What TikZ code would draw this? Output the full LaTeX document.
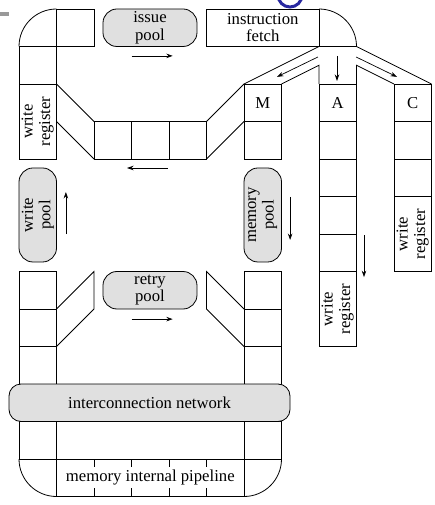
\documentclass[tikz,border=0pt]{standalone}
\usepackage{fontspec}
\setmainfont{Liberation Serif}
\usetikzlibrary{arrows.meta}
\definecolor{poolgray}{RGB}{224,224,224}
\definecolor{logoblue}{RGB}{40,40,160}
\begin{document}
\begin{tikzpicture}[x=37.5pt, y=-37.5pt, line width=0.8pt,
  every node/.style={font=\fontsize{16.7}{17.5}\selectfont, align=center,
                     inner sep=0pt, outer sep=0pt},
  cell/.style={draw, minimum width=37.5pt, minimum height=37.5pt},
  wreg/.style={draw, minimum width=75pt, minimum height=37.5pt, rotate=90},
  pool/.style={draw, fill=poolgray, rounded corners=14pt,
               minimum width=94pt, minimum height=37.5pt},
  vpool/.style={pool, rotate=90},
  flow/.style={-{Stealth[length=6.5pt,width=4.5pt]}, line width=0.7pt},
]
\useasboundingbox (-0.5067,-0.24) rectangle (11.0667,13.2267);

% slide leftovers at the edges
\fill[gray!80] (-0.5067,0.08) rectangle (-0.267,0.187);
\draw[logoblue, line width=3pt] (6.907,-0.373) arc[start angle=180, end angle=0, radius=0.32];

% ---- top row ----
\node[cell] (T1) at (1.5,0.5) {};
\node[pool] (issue) at (3.493,0.5) {issue\\pool};
\node[cell, minimum width=112.5pt] (fetch) at (6.5,0.5) {instruction\\fetch};

% top corners
\draw (0,1) arc[start angle=180, end angle=270, radius=1];
\draw (fetch.north east) arc[start angle=270, end angle=360, radius=1] -- (fetch.south east);

% ---- left column (upper) ----
\node[cell] (L1) at (0.5,1.5) {};
\node[wreg] (WR1) at (0.5,3) {write\\register};

% ---- middle band ----
\node[cell] (B1) at (2.5,3.5) {};
\node[cell] (B2) at (3.5,3.5) {};
\node[cell] (B3) at (4.5,3.5) {};

% ---- M column ----
\node[cell] (M1) at (6.5,2.5) {M};
\node[cell] (M2) at (6.5,3.5) {};

% ---- A column ----
\node[cell] (A1) at (8.5,2.5) {A};
\node[cell] (A2) at (8.5,3.5) {};
\node[cell] (A3) at (8.5,4.5) {};
\node[cell] (A4) at (8.5,5.5) {};
\node[cell] (A5) at (8.5,6.5) {};
\node[wreg] (AWR) at (8.5,8) {write\\register};

% ---- C column ----
\node[cell] (C1) at (10.5,2.5) {C};
\node[cell] (C2) at (10.5,3.5) {};
\node[cell] (C3) at (10.5,4.5) {};
\node[wreg] (CWR) at (10.5,6) {write\\register};

% ---- pools ----
\node[vpool] (wpool) at (0.5,5.493) {write\\pool};
\node[vpool] (mpool) at (6.5,5.493) {memory\\pool};
\node[pool] (retry) at (3.493,7.5) {retry\\pool};

% ---- lower columns ----
\node[cell] (LL1) at (0.5,7.5) {};
\node[cell] (LL2) at (0.5,8.5) {};
\node[cell] (LL3) at (0.5,9.5) {};
\node[cell] (LL4) at (0.5,11.5) {};
\node[cell] (LR1) at (6.5,7.5) {};
\node[cell] (LR2) at (6.5,8.5) {};
\node[cell] (LR3) at (6.5,9.5) {};
\node[cell] (LR4) at (6.5,11.5) {};

% ---- interconnection network ----
\node[draw, fill=poolgray, rounded corners=12pt, minimum width=281pt,
      minimum height=37.5pt] (net) at (3.48,10.5) {interconnection network};

% ---- memory internal pipeline ----
\node[draw, minimum width=187.5pt, minimum height=37.5pt] (pipe) at (3.5,12.5)
      {memory internal pipeline};
\draw (LL4.south west) arc[start angle=180, end angle=90, radius=1];
\draw (pipe.south east) arc[start angle=90, end angle=0, radius=1];
\foreach \k in {2,3,4,5} {
  \draw (\k,12) -- (\k,12.21);
  \draw (\k,12.78) -- (\k,13);
}

% ---- slanted links ----
\draw (L1.south east) -- (B1.north west);
\draw (WR1.south) -- (B1.south west);
\draw (B3.north east) -- (M1.north west);
\draw (B3.south east) -- (M1.south west);

\coordinate (ll-top) at (2,7);
\coordinate (ll-bot) at (2,8);
\draw (LL1.south east) -- (ll-top) -- (ll-bot) -- (LL2.south east);
\coordinate (lr-top) at (5,7);
\coordinate (lr-bot) at (5,8);
\draw (LR1.south west) -- (lr-top) -- (lr-bot) -- (LR2.south west);

% fan-out below instruction fetch
\coordinate (fork-l) at (8,1.5);
\coordinate (fork-r) at (9,1.5);
\coordinate (fork-c) at (9,1);
\draw (fetch.south east) -- (M1.north west);
\draw (M1.north east) -- (fork-l) -- (A1.north west);
\draw (A1.north east) -- (fork-r) -- (C1.north west);
\draw (fork-c) -- (C1.north east);

% ---- flow arrows ----
\draw[flow] (3,1.25) -- (4.1,1.25);
\draw[flow] (3.97,4.24) -- (2.88,4.24);
\draw[flow] (3,8.27) -- (4.1,8.27);
\draw[flow] (1.25,6) -- (1.25,4.88);
\draw[flow] (7.23,5.01) -- (7.23,6.16);
\draw[flow] (9.2,6.03) -- (9.2,7.15);
\draw[flow] (8.48,1.25) -- (8.48,1.92);
\draw[flow] (7.97,1.28) -- (6.88,1.81);
\draw[flow] (8.99,1.28) -- (10.08,1.81);
\end{tikzpicture}
\end{document}
